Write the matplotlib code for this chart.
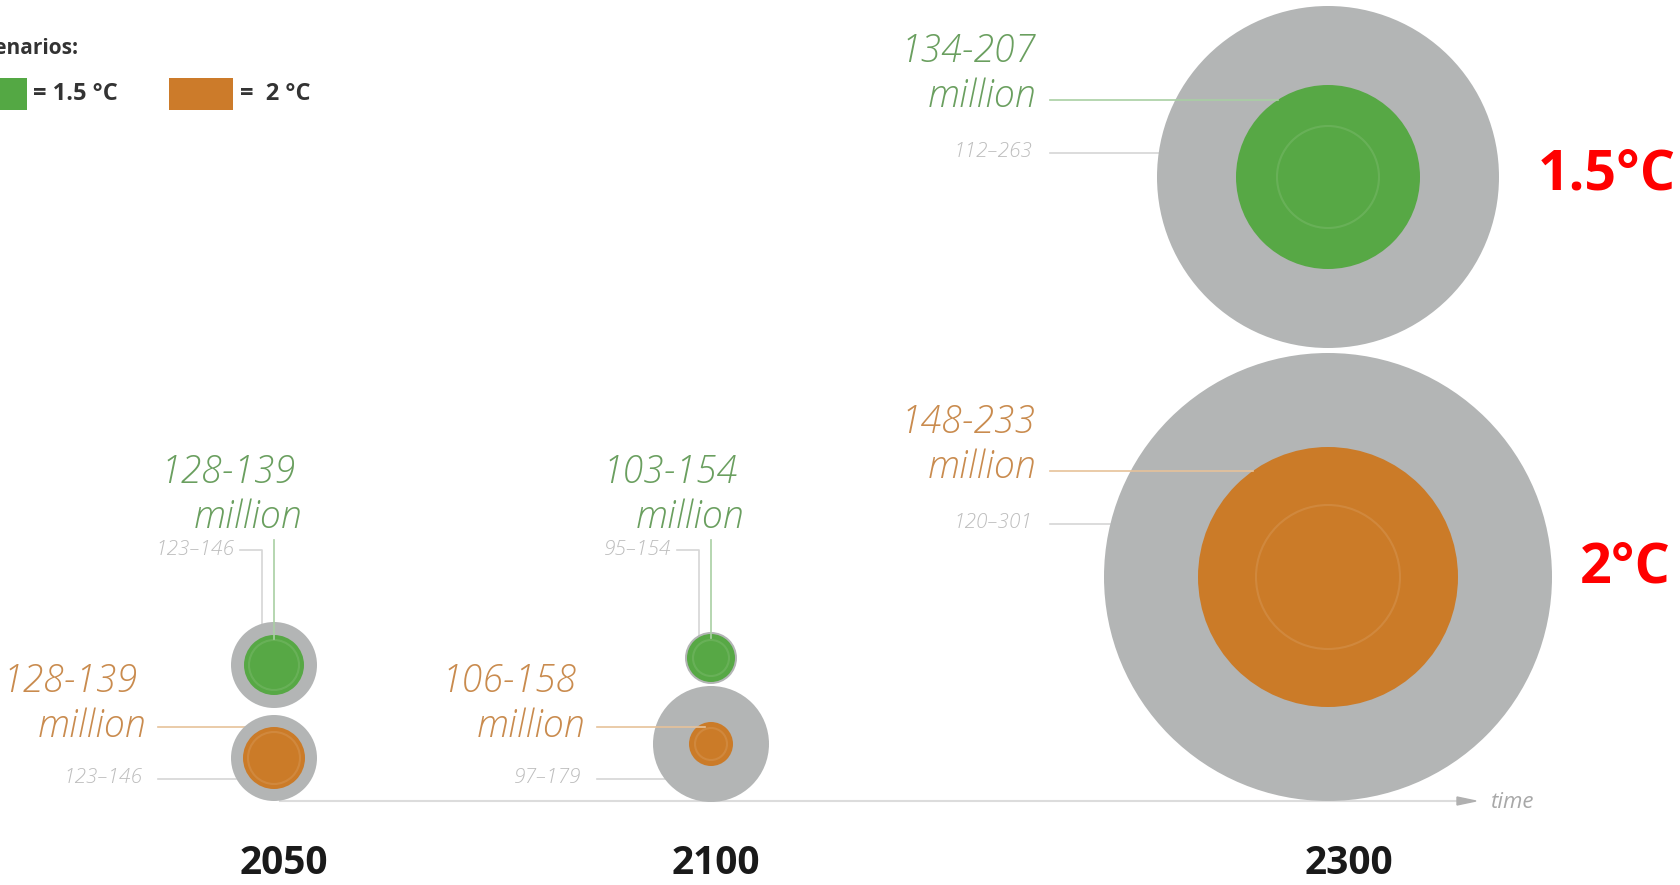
import matplotlib.pyplot as plt
from matplotlib.patches import Circle, Rectangle, Polygon
import numpy as np

# datos
years = ['2050', '2100', '2300']
c15_lo = [128, 103, 134]
c15_hi = [139, 154, 207]
r15_lo = [123, 95, 112]
r15_hi = [146, 154, 263]
c20_lo = [128, 106, 148]
c20_hi = [139, 158, 233]
r20_lo = [123, 97, 120]
r20_hi = [146, 179, 301]

# disposicion (pixeles)
year_x = [274, 711, 1328]
year_lbl_x = [284, 716, 1349]
y15 = [665, 658, 177]
y20 = [758, 744, 577]
rad15_in = [30, 24, 92]
rad15_out = [43, 26, 171]
rad20_in = [31, 22, 130]
rad20_out = [43, 58, 224]
ring15 = [25, 18, 51]
ring20 = [26, 16, 72]

green = '#57a845'
orange = '#cb7b28'
grey = '#b3b5b5'
green_txt = '#6a9f5f'
orange_txt = '#c98b4e'
grey_txt = '#bdbdbd'
green_line = '#a9cfa3'
orange_line = '#e6c29a'
grey_line = '#d6d6d6'

plt.rcParams['font.family'] = ['Open Sans', 'DejaVu Sans']

fig = plt.figure(figsize=(16.8, 8.85), dpi=100)
ax = fig.add_axes([0, 0, 1, 1])
ax.set_xlim(0, 1680)
ax.set_ylim(885, 0)
ax.axis('off')

# eje del tiempo
ax.plot([280, 1460], [801, 801], color='#dcdcdc', lw=1.5, zorder=0)
ax.add_patch(Polygon([[1457, 797], [1476, 801], [1457, 805]], closed=True,
                     color='#b0b0b0', zorder=0))
ax.text(1491, 802, 'time', style='italic', fontsize=16, color='#a8a8a8',
        ha='left', va='center')

# circulos
for i in range(3):
    for cy, ro, ri, rr, col in [(y15[i], rad15_out[i], rad15_in[i], ring15[i], green),
                                (y20[i], rad20_out[i], rad20_in[i], ring20[i], orange)]:
        ax.add_patch(Circle((year_x[i], cy), ro, color=grey, zorder=1, lw=0))
        ax.add_patch(Circle((year_x[i], cy), ri, color=col, zorder=2, lw=0))
        ax.add_patch(Circle((year_x[i], cy), rr, fill=False, ec='white', alpha=0.1,
                            lw=1.5, zorder=3))


def edge_x(cx, cy, r, y):
    return cx - np.sqrt(max(r ** 2 - (y - cy) ** 2, 0))


def big_label(x, y, text, color):
    ax.text(x, y, text, style='italic', fontweight='light', fontsize=27,
            color=color, ha='right', va='center')


def small_label(x, y, text):
    ax.text(x, y, text, style='italic', fontweight='light', fontsize=15,
            color=grey_txt, ha='right', va='center')


# etiquetas arriba (2050 y 2100, 1.5 °C)
top_right = [302, 744]
for i in range(2):
    cx = year_x[i]
    big_label(top_right[i] - 6, 473, f'{c15_lo[i]}-{c15_hi[i]}', green_txt)
    big_label(top_right[i], 518, 'million', green_txt)
    small_label(cx - 40, 550, f'{r15_lo[i]}\u2013{r15_hi[i]}')
    ax.plot([cx, cx], [540, y15[i] - rad15_in[i] + 4], color=green_line, lw=1.2, zorder=4)
    ax.plot([cx - 34, cx - 12, cx - 12], [550, 550, y15[i] - rad15_out[i] + 6],
            color=grey_line, lw=1.2, zorder=0)

# etiquetas a la izquierda (2050 y 2100, 2 °C)
left_right = [146, 585]
for i in range(2):
    cx = year_x[i]
    xr = left_right[i]
    big_label(xr - 8, 682, f'{c20_lo[i]}-{c20_hi[i]}', orange_txt)
    big_label(xr, 727, 'million', orange_txt)
    small_label(xr - 4, 778, f'{r20_lo[i]}\u2013{r20_hi[i]}')
    ax.plot([xr + 12, edge_x(cx, y20[i], rad20_in[i], 727) + 8], [727, 727],
            color=orange_line, lw=1.2, zorder=4 if i == 1 else 0)
    ax.plot([xr + 12, edge_x(cx, y20[i], rad20_out[i], 779)], [779, 779],
            color=grey_line, lw=1.2, zorder=0)

# etiquetas 2300
cx = year_x[2]
for cy, ri, ro, lo, hi, rlo, rhi, ytop, ctxt, cline in [
        (y15[2], rad15_in[2], rad15_out[2], c15_lo[2], c15_hi[2], r15_lo[2], r15_hi[2], 52, green_txt, green_line),
        (y20[2], rad20_in[2], rad20_out[2], c20_lo[2], c20_hi[2], r20_lo[2], r20_hi[2], 423, orange_txt, orange_line)]:
    big_label(1036, ytop, f'{lo}-{hi}', ctxt)
    big_label(1036, ytop + 45, 'million', ctxt)
    small_label(1032, ytop + 100, f'{rlo}\u2013{rhi}')
    ax.plot([1050, edge_x(cx, cy, ri, ytop + 48)], [ytop + 48, ytop + 48],
            color=cline, lw=1.2, zorder=4)
    ax.plot([1050, edge_x(cx, cy, ro, ytop + 101)], [ytop + 101, ytop + 101],
            color=grey_line, lw=1.2, zorder=0)

# años
for i in range(3):
    ax.text(year_lbl_x[i], 864, years[i], fontsize=28, fontweight='bold',
            color='#1a1a1a', ha='center', va='center')

# leyenda
ax.text(78, 49, 'Scenarios:', fontsize=15, fontweight='bold', color='#333333',
        ha='right', va='center')
ax.add_patch(Rectangle((-37, 78), 64, 32, color='#54a844', lw=0))
ax.text(33, 94, '= 1.5 °C', fontsize=17, fontweight='bold', color='#333333',
        ha='left', va='center')
ax.add_patch(Rectangle((169, 78), 64, 32, color='#cc7b2a', lw=0))
ax.text(240, 94, '=  2 °C', fontsize=17, fontweight='bold', color='#333333',
        ha='left', va='center')

# etiquetas rojas
ax.text(1676, 175, '1.5°C', fontsize=40, fontweight='bold', color='#ff0000',
        ha='right', va='center')
ax.text(1671, 568, '2°C', fontsize=40, fontweight='bold', color='#ff0000',
        ha='right', va='center')

fig.savefig('out.png', dpi=100)
